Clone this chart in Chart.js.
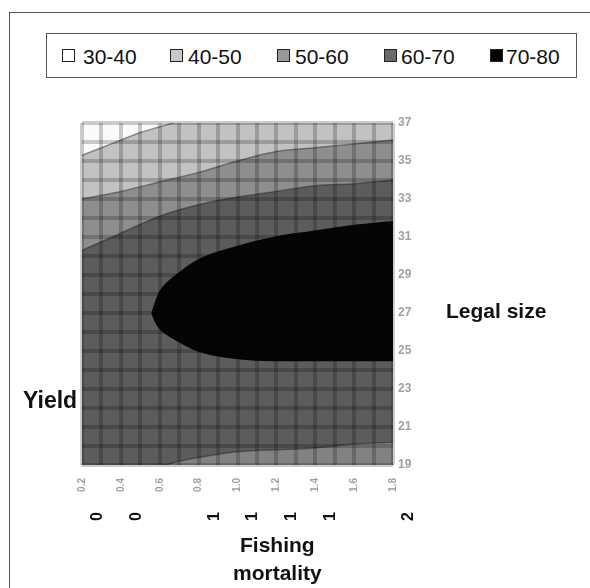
<!DOCTYPE html>
<html>
<head>
<meta charset="utf-8">
<script src="https://cdn.jsdelivr.net/npm/chart.js@4"></script>
<style>
  body { margin: 0; background: #fff; }
  #wrap { position: relative; width: 590px; height: 588px; overflow: hidden; font-family: "Liberation Sans", Arial, sans-serif; }
  #frame { position: absolute; left: 9px; top: 12px; width: 620px; height: 620px; border-left: 1.5px solid #555; border-top: 1.5px solid #555; }
  #legend { position: absolute; left: 46px; top: 33px; width: 531px; height: 45px; border: 1.5px solid #555; box-sizing: border-box; }
  .sw { position: absolute; top: 49px; width: 13px; height: 13px; border: 1.5px solid #222; box-sizing: border-box; }
  .lt { position: absolute; top: 45px; font-size: 21px; line-height: 24px; color: #111; }
  .ax { position: absolute; font-weight: bold; font-size: 21px; color: #111; white-space: nowrap; }
  canvas { position: absolute; left: 0; top: 0; }
</style>
</head>
<body>
<div id="wrap">
  <div id="frame"></div>
  <div id="legend"></div>
  <div class="sw" style="left:62px;background:#fff"></div><div class="lt" style="left:83px">30-40</div>
  <div class="sw" style="left:170px;background:#c8c8c8"></div><div class="lt" style="left:188px">40-50</div>
  <div class="sw" style="left:277px;background:#999"></div><div class="lt" style="left:295px">50-60</div>
  <div class="sw" style="left:384px;background:#6a6a6a"></div><div class="lt" style="left:401px">60-70</div>
  <div class="sw" style="left:490px;background:#000"></div><div class="lt" style="left:506px">70-80</div>
  <canvas id="myChart" width="590" height="588"></canvas>
  <div class="ax" style="left:23px;top:387px;font-size:23px">Yield</div>
  <div class="ax" style="left:446px;top:299px">Legal size</div>
  <div class="ax" style="left:240px;top:533px">Fishing</div>
  <div class="ax" style="left:233px;top:561px">mortality</div>
</div>
<script>
// contour edges (x = grid column, y = legal size)
const fishingCols = [0, 2, 4, 6, 8, 10, 12, 14, 16];
const edge50 = [33.0, 33.4, 33.9, 34.4, 35.0, 35.5, 35.7, 35.9, 36.1];
const edge60Upper = [30.3, 31.2, 32.1, 32.7, 33.1, 33.4, 33.7, 33.8, 34.0];

const edge40Cols = [0, 1, 2, 3, 4, 5, 6];
const edge40 = [35.3, 35.7, 36.1, 36.5, 36.8, 37.1, 37.4];

const blackCols = [3.6, 3.8, 4, 5, 6, 8, 10, 12, 14, 16];
const edge70Upper = [27.0, 27.6, 28.1, 29.1, 29.8, 30.5, 31.0, 31.3, 31.6, 31.8];
const edge70Lower = [27.0, 26.5, 26.2, 25.5, 25.0, 24.6, 24.5, 24.5, 24.5, 24.5];

const lowCols = [3, 4, 5, 6, 8, 10, 12, 14, 16];
const edge60Lower = [18.5, 18.9, 19.2, 19.4, 19.7, 19.8, 19.9, 20.1, 20.2];

// tick labels
const sizeTicks = [19, 21, 23, 25, 27, 29, 31, 33, 35, 37];
const mortalityTicks = ['0.2', '0.4', '0.6', '0.8', '1.0', '1.2', '1.4', '1.6', '1.8'];
const mortalityRoundPos = [0.8, 2.8, 4.8, 6.8, 8.8, 10.8, 12.8, 14.8, 16.8];
const mortalityRounded = ['0', '0', '', '1', '1', '1', '1', '', '2'];

function pts(xs, ys) {
    return xs.map((x, i) => ({ x: x, y: ys[i] }));
}

function edge(xs, ys, fill, color, order) {
    return {
        data: pts(xs, ys),
        fill: fill,
        backgroundColor: color,
        borderColor: 'rgba(30,30,30,0.45)',
        borderWidth: 1.5,
        pointRadius: 0,
        cubicInterpolationMode: 'monotone',
        order: order
    };
}

const areaBg = {
    id: 'areaBg',
    beforeDatasetsDraw(chart) {
        const a = chart.chartArea;
        const ctx = chart.ctx;
        ctx.save();
        ctx.fillStyle = '#5c5c5c';
        ctx.fillRect(a.left, a.top, a.right - a.left, a.bottom - a.top);
        ctx.restore();
    }
};

var ctx = document.getElementById('myChart').getContext('2d');
new Chart(ctx, {
    type: 'line',
    data: {
        datasets: [
            edge(fishingCols, edge60Upper, 'end', '#8e8e8e', 5),
            edge(fishingCols, edge50, 'end', '#c2c2c2', 4),
            edge(edge40Cols, edge40, 'end', '#fafafa', 3),
            edge(lowCols, edge60Lower, 'start', '#828282', 2),
            Object.assign(edge(blackCols, edge70Upper, { target: 5 }, '#050505', 1), { borderColor: '#050505' }),
            Object.assign(edge(blackCols, edge70Lower, false, '#050505', 0), { borderColor: '#050505' })
        ]
    },
    options: {
        responsive: false,
        animation: false,
        layout: { padding: { left: 82, top: 123, right: 167, bottom: 61 } },
        plugins: { legend: { display: false }, tooltip: { enabled: false } },
        scales: {
            x: {
                type: 'linear', min: 0, max: 16, weight: 0,
                grid: { color: 'rgba(0,0,0,0.2)', lineWidth: 4, drawTicks: false, z: 1 },
                border: { display: false },
                ticks: { display: false, stepSize: 1 },
                afterFit: (s) => { s.height = 0; }
            },
            x2: {
                type: 'linear', position: 'bottom', min: 0, max: 16, weight: 1,
                grid: { display: false },
                border: { display: false },
                afterBuildTicks: (s) => { s.ticks = fishingCols.map(v => ({ value: v })); },
                ticks: {
                    autoSkip: false, minRotation: 90, maxRotation: 90, padding: 5,
                    color: '#a0a0a0', font: { size: 10, weight: 'bold' },
                    callback: (v, i) => mortalityTicks[i]
                },
                afterFit: (s) => { s.height = 27; }
            },
            x3: {
                type: 'linear', position: 'bottom', min: 0, max: 16, weight: 2,
                grid: { display: false },
                border: { display: false },
                afterBuildTicks: (s) => { s.ticks = mortalityRoundPos.map(v => ({ value: v })); },
                ticks: {
                    autoSkip: false, minRotation: 90, maxRotation: 90, padding: 12,
                    color: '#111', font: { family: 'Liberation Sans', size: 16, weight: 'bold' },
                    callback: (v, i) => mortalityRounded[i]
                },
                afterFit: (s) => { s.height = 35; }
            },
            y: {
                type: 'linear', position: 'right', min: 19, max: 37,
                grid: { color: 'rgba(0,0,0,0.2)', lineWidth: 4, drawTicks: false, z: 1 },
                border: { display: false },
                ticks: {
                    stepSize: 1, padding: 5, color: '#a0a0a0',
                    font: { size: 12, weight: 'bold' },
                    callback: (v) => sizeTicks.includes(v) ? String(v) : ''
                },
                afterFit: (s) => { s.width = 30; }
            }
        }
    },
    plugins: [areaBg]
});
</script>
</body>
</html>
